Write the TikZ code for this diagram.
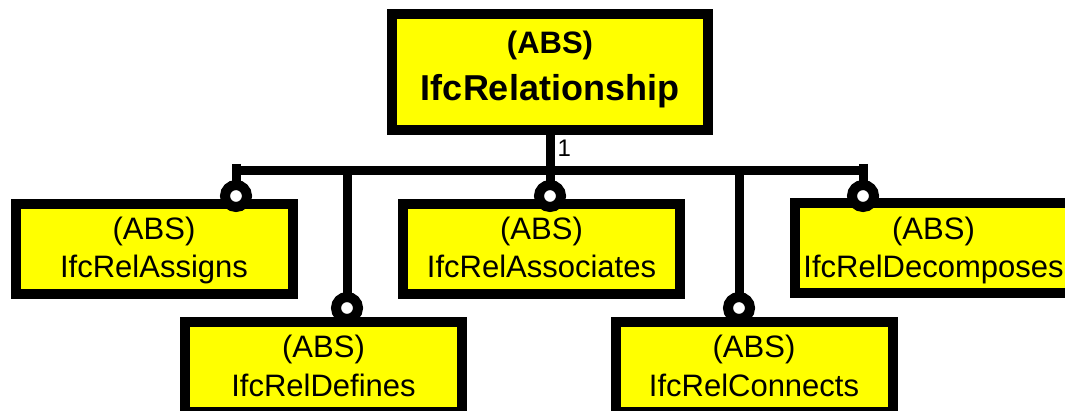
\documentclass[tikz,border=0pt]{standalone}
\usepackage{fontspec}
\setmainfont{Liberation Sans}
\definecolor{boxyellow}{RGB}{255,255,0}
\begin{document}
\begin{tikzpicture}[x=1pt,y=-1pt,
  box/.style={rectangle, draw=black, fill=boxyellow, line width=10pt, inner sep=0pt, outer sep=0pt},
  childbox/.style={box, minimum width=277pt, minimum height=90pt},
  ring/.style={circle, draw=black, fill=white, line width=10pt, minimum size=22pt, inner sep=0pt, outer sep=0pt},
  wire/.style={draw=black, line width=9pt, line cap=butt},
  lbl/.style={font=\fontsize{31}{31}\selectfont, anchor=base, inner sep=0pt},
  tlbl/.style={font=\fontsize{31}{31}\selectfont\bfseries, anchor=base, inner sep=0pt},
  tname/.style={font=\fontsize{36}{36}\selectfont\bfseries, anchor=base, inner sep=0pt},
  mult/.style={font=\fontsize{24}{24}\selectfont, anchor=base west, inner sep=0pt}]
\useasboundingbox (0,0) rectangle (1065,411);
\clip (0,0) rectangle (1065,411);

% boxes
\node[box, minimum width=316pt, minimum height=116pt] (rel) at (550,72) {};
\node[childbox] (assigns) at (154,249) {};
\node[childbox] (associates) at (541.5,249) {};
\node[childbox] (decomposes) at (933.5,248.5) {};
\node[childbox] (defines) at (323.5,367) {};
\node[childbox] (connects) at (754,367) {};

% texts
\node[tlbl] (relabs) at (550,54) {(ABS)};
\node[tname] (relname) at (550,101) {IfcRelationship};
\node[lbl] (assignsabs) at (154,240) {(ABS)};
\node[lbl] (assignsname) at (154,278) {IfcRelAssigns};
\node[lbl] (associatesabs) at (541.5,240) {(ABS)};
\node[lbl] (associatesname) at (541.5,278) {IfcRelAssociates};
\node[lbl] (decomposesabs) at (933.5,240) {(ABS)};
\node[lbl] (decomposesname) at (933.5,278) {IfcRelDecomposes};
\node[lbl] (definesabs) at (323.5,358) {(ABS)};
\node[lbl] (definesname) at (323.5,396) {IfcRelDefines};
\node[lbl] (connectsabs) at (754,358) {(ABS)};
\node[lbl] (connectsname) at (754,396) {IfcRelConnects};

% rings
\node[ring] (cA) at (236,196) {};
\node[ring] (cC) at (550,196) {};
\node[ring] (cE) at (863,196) {};
\node[ring] (cB) at (347,308) {};
\node[ring] (cD) at (739,308) {};

% junctions
\coordinate (jA) at (236,170.5);
\coordinate (jB) at (347,170.5);
\coordinate (jD) at (739,170.5);
\coordinate (jE) at (863,170.5);
\coordinate (tA) at (236,164);
\coordinate (tE) at (863,164);

% connectors
\draw[wire] (jA) -- (jE);
\draw[wire] (rel.south) -- (cC.north);
\draw[wire] (tA) -- (cA.north);
\draw[wire] (tE) -- (cE.north);
\draw[wire] (jB) -- (cB.north);
\draw[wire] (jD) -- (cD.north);

\node[mult] (one) at (557.5,157) {1};
\end{tikzpicture}
\end{document}
